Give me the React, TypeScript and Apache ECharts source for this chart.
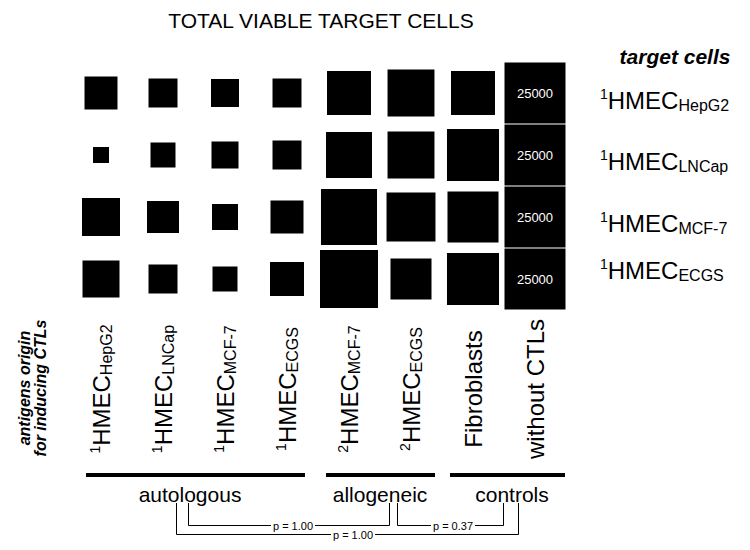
import React, { useEffect, useRef } from 'react';
import * as echarts from 'echarts';

// ---- data ----
const antigenSup = ['1', '1', '1', '1', '2', '2', '', ''];
const antigenName = ['HepG2', 'LNCap', 'MCF-7', 'ECGS', 'MCF-7', 'ECGS', 'Fibroblasts', 'without CTLs'];
const targetName = ['HepG2', 'LNCap', 'MCF-7', 'ECGS'];
const targetSup = ['1', '1', '1', '1'];

// total viable target cells (row = target cells, column = antigen origin)
const cellsHepG2 = [7300, 5650, 5270, 5650, 13000, 14800, 13000, 25000];
const cellsLNCap = [1720, 4200, 4900, 5650, 14200, 14800, 18200, 25000];
const cellsMCF7 = [9700, 6880, 4540, 7320, 21100, 16100, 17500, 25000];
const cellsECGS = [9200, 5650, 4200, 7770, 22600, 11300, 18200, 25000];
const rowsData = [cellsHepG2, cellsLNCap, cellsMCF7, cellsECGS];

const groupNames = ['autologous', 'allogeneic', 'controls'];
const pLabels = ['p = 1.00', 'p = 1.00', 'p = 0.37'];
const maxCells = 25000;

const FONT = '"Liberation Sans", Arial, Helvetica, sans-serif';

const rich = {
  sup: { fontSize: 14, lineHeight: 14, verticalAlign: 'top', fontFamily: FONT, color: '#000' },
  main: { fontSize: 24, lineHeight: 26, fontFamily: FONT, color: '#000' },
  sub: { fontSize: 16, lineHeight: 16, verticalAlign: 'bottom', fontFamily: FONT, color: '#000' },
  big: { fontSize: 24, lineHeight: 26, fontFamily: FONT, color: '#000' },
};

function fmtLabel(sup: string, name: string) {
  if (sup) return `{sup|${sup}}{main|HMEC}{sub|${name}}`;
  return `{big|${name}}`;
}

export default function App() {
  const ref = useRef<HTMLDivElement>(null);
  useEffect(() => {
    if (!ref.current) return;
    const chart = echarts.init(ref.current, undefined, { renderer: 'svg' });

    const xCats = antigenName.map((n, i) => antigenSup[i] + n);
    const yPads = [[14, 0, 0, 0], [12, 0, 0, 0], [12, 0, 0, 0], [0, 0, 18, 0]];
    const yCats = targetName.map((n, i) => ({
      value: targetSup[i] + n,
      textStyle: { padding: yPads[i] },
    }));

    const data: any[] = [];
    rowsData.forEach((row, r) => {
      row.forEach((v, c) => {
        data.push({
          value: [c, r, v],
          label: { show: c === antigenName.length - 1 },
        });
      });
    });

    const black = '#000';
    const pLine = { stroke: black, lineWidth: 1, fill: null };
    const pText = (x: number, y: number, t: string) => ({
      type: 'text', x, y, z: 10,
      style: {
        text: t, fontSize: 11, fontFamily: FONT, fill: black,
        align: 'center', verticalAlign: 'middle', backgroundColor: '#fff', padding: [0, 2],
      },
    });

    chart.setOption({
      animation: false,
      backgroundColor: '#fff',
      textStyle: { fontFamily: FONT },
      grid: { left: 70, right: 184, top: 62, bottom: 240 },
      xAxis: {
        type: 'category',
        data: xCats,
        axisLine: { show: false },
        axisTick: { show: false },
        splitLine: { show: false },
        axisLabel: {
          interval: 0,
          rotate: 90,
          align: 'center',
          verticalAlign: 'middle',
          margin: 79,
          formatter: (_v: string, i: number) => fmtLabel(antigenSup[i], antigenName[i]),
          rich,
        },
      },
      yAxis: {
        type: 'category',
        data: yCats,
        inverse: true,
        position: 'right',
        axisLine: { show: false },
        axisTick: { show: false },
        splitLine: { show: false },
        axisLabel: {
          interval: 0,
          margin: 34,
          align: 'left',
          formatter: (_v: string, i: number) => fmtLabel(targetSup[i], targetName[i]),
          rich,
        },
      },
      series: [
        {
          type: 'scatter',
          symbol: 'rect',
          silent: true,
          symbolSize: (val: number[]) => 61 * Math.sqrt(val[2] / maxCells),
          itemStyle: { color: black, opacity: 1 },
          label: {
            position: 'inside',
            color: '#fff',
            fontSize: 13,
            fontFamily: FONT,
            formatter: (p: any) => String(p.value[2]),
          },
          data,
        },
      ],
      graphic: [
        {
          type: 'text', x: 321, y: 20,
          style: { text: 'TOTAL VIABLE TARGET CELLS', fontSize: 21, fontFamily: FONT, fill: black, align: 'center', verticalAlign: 'middle' },
        },
        {
          type: 'text', x: 675, y: 56,
          style: { text: 'target cells', fontSize: 21, fontWeight: 'bold', fontStyle: 'italic', fontFamily: FONT, fill: black, align: 'center', verticalAlign: 'middle' },
        },
        {
          type: 'text', x: 32, y: 388, rotation: Math.PI / 2,
          style: { text: 'antigens origin\nfor inducing CTLs', fontSize: 16, lineHeight: 16, fontWeight: 'bold', fontStyle: 'italic', fontFamily: FONT, fill: black, align: 'center', verticalAlign: 'middle' },
        },
        // group bars
        { type: 'line', shape: { x1: 86, y1: 475, x2: 305, y2: 475 }, style: { stroke: black, lineWidth: 4 } },
        { type: 'line', shape: { x1: 326, y1: 475, x2: 435, y2: 475 }, style: { stroke: black, lineWidth: 4 } },
        { type: 'line', shape: { x1: 450, y1: 475, x2: 565, y2: 475 }, style: { stroke: black, lineWidth: 4 } },
        {
          type: 'text', x: 190, y: 494,
          style: { text: groupNames[0], fontSize: 21, fontFamily: FONT, fill: black, align: 'center', verticalAlign: 'middle' },
        },
        {
          type: 'text', x: 380, y: 494,
          style: { text: groupNames[1], fontSize: 21, fontFamily: FONT, fill: black, align: 'center', verticalAlign: 'middle' },
        },
        {
          type: 'text', x: 512, y: 494,
          style: { text: groupNames[2], fontSize: 21, fontFamily: FONT, fill: black, align: 'center', verticalAlign: 'middle' },
        },
        // p-value brackets
        { type: 'polyline', shape: { points: [[188.5, 503], [188.5, 525.5], [389.5, 525.5], [389.5, 503]] }, style: pLine },
        { type: 'polyline', shape: { points: [[176.5, 503], [176.5, 534.5], [518.5, 534.5], [518.5, 503]] }, style: pLine },
        { type: 'polyline', shape: { points: [[397.5, 503], [397.5, 525.5], [503.5, 525.5], [503.5, 503]] }, style: pLine },
        pText(293, 525.5, pLabels[0]),
        pText(353, 534.5, pLabels[1]),
        pText(453, 525.5, pLabels[2]),
      ],
    });
    return () => chart.dispose();
  }, []);
  return <div ref={ref} style={{ position: 'fixed', left: 0, top: 0, width: 750, height: 550 }} />;
}
